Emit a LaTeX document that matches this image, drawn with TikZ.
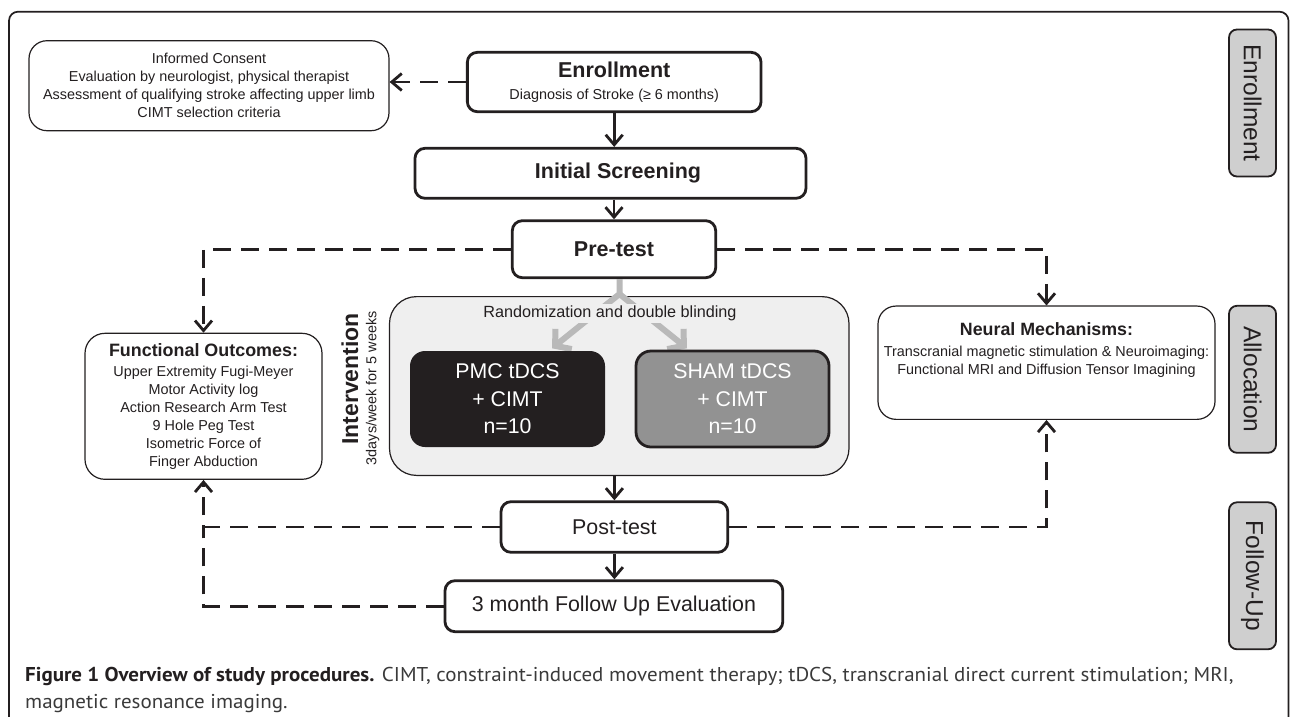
\documentclass[tikz,border=0pt]{standalone}
\usepackage{fontspec}
\setmainfont{Liberation Sans}
\newfontfamily\capfont[FakeStretch=1.05]{PT Sans}
\usetikzlibrary{arrows.meta,calc}
\definecolor{ink}{HTML}{231F20}
\definecolor{graybg}{HTML}{EFEFEF}
\definecolor{arrowgray}{HTML}{B9B9B9}
\definecolor{shamgray}{HTML}{929292}
\definecolor{tabgray}{HTML}{CFCFCF}
\definecolor{capgray}{HTML}{3A3A3A}
\tikzset{
  thickbox/.style={draw=ink, line width=2.8pt, rounded corners=10pt, fill=white, inner sep=0pt, align=center, text=ink},
  thinbox/.style={draw=ink, line width=1.2pt, rounded corners=20pt, fill=white, inner sep=0pt, align=center, text=ink},
  tabbox/.style={draw=ink, line width=1.8pt, rounded corners=8pt, fill=tabgray, inner sep=0pt, minimum width=147pt, minimum height=47pt, rotate=-90, font=\fontsize{24.5}{28}\selectfont, text=ink},
  armbox/.style={rounded corners=15pt, inner sep=0pt, align=center, text=white, minimum width=195pt, minimum height=96pt, font=\fontsize{21.3}{27.5}\selectfont},
  solidarrow/.style={draw=ink, line width=2.8pt, -{Straight Barb[length=10pt,width=17pt]}},
  dasharrow/.style={draw=ink, line width=2.8pt, dash pattern=on 18pt off 10pt, -{Straight Barb[length=10pt,width=17pt]}},
  dashline/.style={draw=ink, line width=2.8pt, dash pattern=on 18pt off 10pt},
  grayarrow/.style={draw=arrowgray, line width=6pt, line join=miter, -{Straight Barb[length=11pt,width=26pt]}},
  bodyfont/.style={font=\fontsize{14.4}{18}\selectfont},
  bigbold/.style={font=\bfseries\fontsize{21.5}{24}\selectfont},
  bigreg/.style={font=\fontsize{21.4}{24}\selectfont},
}
\begin{document}
\begin{tikzpicture}[x=1pt,y=-1pt]
\useasboundingbox (0,0) rectangle (1290,716);
% outer frame
\draw[draw=ink, line width=1.7pt, rounded corners=9pt] (9,760) -- (9,11.7) -- (1288.5,11.7) -- (1288.5,760);

% top flow
\node[thinbox, bodyfont, rounded corners=18pt, minimum width=360pt, minimum height=90pt] (info) at (209,85.7)
  {Informed Consent\\Evaluation by neurologist, physical therapist\\Assessment of qualifying stroke affecting upper limb\\CIMT selection criteria};
\node[thickbox, bodyfont, minimum width=293.7pt, minimum height=59.4pt] (enroll) at (614.2,82)
  {{\bfseries\fontsize{21.5}{24}\selectfont Enrollment}\\[4pt]Diagnosis of Stroke (≥ 6 months)};
\node[thickbox, bigbold, minimum width=391pt, minimum height=50pt] (screen) at (610.5,173.3)
  {\hspace*{15pt}Initial Screening};
\node[thickbox, bigbold, minimum width=203.4pt, minimum height=57pt] (pre) at (614,249.2) {Pre-test};

% side boxes
\node[thinbox, bodyfont, minimum width=237pt, minimum height=146pt] (func) at (203.5,406.3)
  {{\bfseries\fontsize{17.9}{20}\selectfont Functional Outcomes:}\\[1.5pt]Upper Extremity Fugi-Meyer\\Motor Activity log\\Action Research Arm Test\\9 Hole Peg Test\\Isometric Force of\\Finger Abduction};
\node[thinbox, bodyfont, rounded corners=18pt, minimum width=337pt, minimum height=113.3pt, text depth=0pt] (neural) at (1046.5,362.7)
  {{\bfseries\fontsize{17.8}{20}\selectfont Neural Mechanisms:}\\[3pt]Transcranial magnetic stimulation \& Neuroimaging:\\Functional MRI and Diffusion Tensor Imagining\\[10pt]\mbox{}};

% intervention block
\node[draw=ink, line width=1.2pt, fill=graybg, rounded corners=27pt, minimum width=459.5pt, minimum height=178.8pt, inner sep=0pt] (interv) at (619.25,386) {};
\coordinate (fork) at (619.5,294);
\coordinate (tipL) at (552,348.3);
\coordinate (tipR) at (687,348.3);
\draw[grayarrow] (pre.south -| fork) -- (fork) -- (tipL);
\draw[grayarrow] (fork) -- (tipR);
\node[fill=graybg, inner sep=2pt, text=ink, font=\fontsize{16.2}{19}\selectfont] (rand) at (610,313.3) {Randomization and double blinding};
\node[armbox, fill=ink] (pmc) at (507.5,399) {PMC tDCS\\+ CIMT\\n=10};
\node[armbox, fill=shamgray, draw=ink, line width=2.8pt, minimum width=193pt] (sham) at (732.5,399) {SHAM tDCS\\+ CIMT\\n=10};
\node[rotate=90, text=ink, font=\bfseries\fontsize{23}{26}\selectfont] (intv) at (350,379) {Intervention};
\node[rotate=90, text=ink, font=\fontsize{14.4}{18}\selectfont] (intv2) at (372.7,388.3) {3days/week for 5 weeks};

% bottom flow
\node[thickbox, bigreg, minimum width=226.8pt, minimum height=50.6pt] (post) at (614.4,527) {Post-test};
\node[thickbox, bigreg, minimum width=337.8pt, minimum height=51pt] (three) at (613.9,606.2) {3 month Follow Up Evaluation};

% tabs
\node[tabbox] (tabE) at (1252.5,103) {Enrollment};
\node[tabbox] (tabA) at (1252.5,379.3) {Allocation};
\node[tabbox] (tabF) at (1252.5,575.8) {Follow-Up};

% solid arrows
\draw[solidarrow] (enroll.south) -- (enroll.south |- screen.north);
\draw[solidarrow] (pre.north |- screen.south) -- (pre.north);
\draw[solidarrow] (post.north |- interv.south) -- (post.north);
\draw[solidarrow] (post.south) -- (post.south |- three.north);

% dashed connectors
\draw[dasharrow] (enroll.west) -- (enroll.west -| info.east);
\draw[dasharrow] (pre.west) -| (func.north);
\draw[dasharrow] (pre.east) -| (neural.north);
\draw[dasharrow] (post.west) -| (func.south);
\draw[dasharrow] (post.east) -| (neural.south);
\coordinate (join) at (func.south |- post.west);
\draw[dashline] (three.west) -| (join);

% caption
\node[anchor=base west, inner sep=0pt, text=capgray, font=\capfont\fontsize{20}{26.6}\selectfont] (cap1) at (25,681.7)
  {\textcolor{ink}{\bfseries Figure 1 Overview of study procedures.} CIMT, constraint-induced movement therapy; tDCS, transcranial direct current stimulation; MRI,};
\node[anchor=base west, inner sep=0pt, text=capgray, font=\capfont\fontsize{20}{26.6}\selectfont] (cap2) at (25,708.3)
  {magnetic resonance imaging.};
\end{tikzpicture}
\end{document}
